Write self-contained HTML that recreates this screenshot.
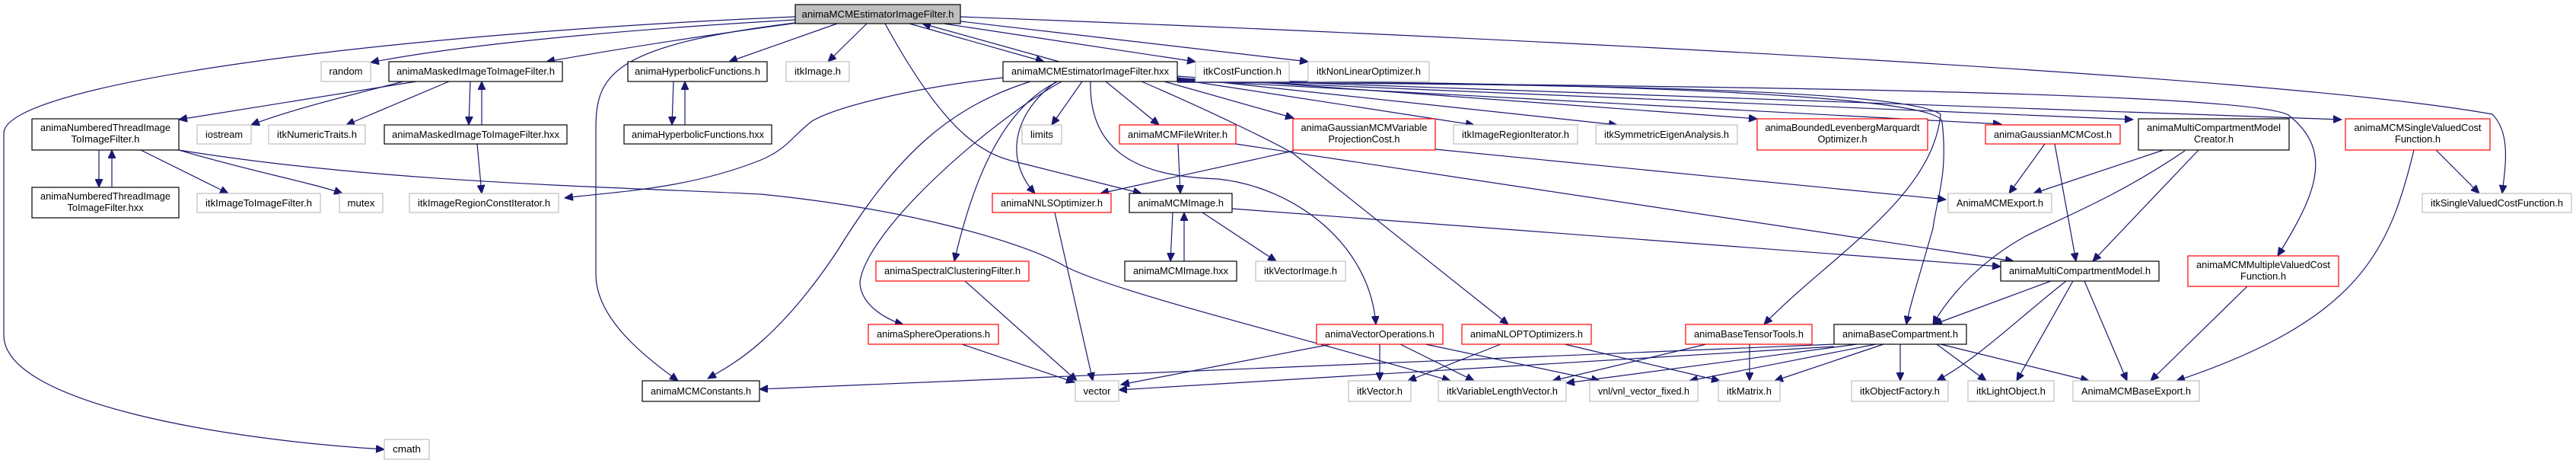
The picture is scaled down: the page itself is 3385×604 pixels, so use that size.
<!DOCTYPE html>
<html><head><meta charset="utf-8"><style>
html,body{margin:0;padding:0;background:#fff;}
svg{display:block;}
text{font-family:"Liberation Sans",sans-serif;font-size:12.5px;fill:#000;}
.e{fill:none;stroke:#191970;stroke-width:1.2;marker-end:url(#a);}
.b{fill:#fff;stroke:#000;stroke-width:1.2;}
.g{fill:#fff;stroke:#bfbfbf;stroke-width:1.2;}
.r{fill:#fff;stroke:#ff0000;stroke-width:1.2;}
.t{fill:#bfbfbf;stroke:#000;stroke-width:1.2;}
</style></head><body>
<svg width="3385" height="604" viewBox="0 0 3385 604" xmlns="http://www.w3.org/2000/svg">
<defs><marker id="a" markerUnits="userSpaceOnUse" markerWidth="12" markerHeight="10" refX="11" refY="5" orient="auto"><path d="M0,0 L11,5 L0,10 z" fill="#191970" stroke="#191970"/></marker></defs>

<!-- edges -->
<path class="e" d="M1045,22 C500,45 5,110 5,175 L5,440 C5,530 300,578 505,590"/>
<path class="e" d="M1045,26 C800,40 600,60 487,82"/>
<path class="e" d="M1048,30 C900,50 780,70 718,81"/>
<path class="e" d="M1100,31 L958,81"/>
<path class="e" d="M1139,31 L1088,81"/>
<path class="e" d="M1163,31 C1250,190 1300,205 1345,215 L1500,254"/>
<path class="e" d="M1195,31 L1372,81"/>
<path class="e" d="M1392,81 L1212,31"/>
<path class="e" d="M1240,31 L1571,81"/>
<path class="e" d="M1262,28 L1719,81"/>
<path class="e" d="M1262,22 C2000,50 3000,100 3275,150 C3300,175 3292,220 3288,254"/>
<path class="e" d="M1045,30 C800,60 783,100 783,170 L783,360 C783,420 850,470 891,500"/>
<path class="e" d="M547,107 L235,157"/>
<path class="e" d="M530,107 C440,130 380,145 330,164"/>
<path class="e" d="M590,107 L455,164"/>
<path class="e" d="M618,107 L616,164"/>
<path class="e" d="M633,164 L633,107"/>
<path class="e" d="M627,189 L633,254"/>
<path class="e" d="M130,197 L130,246"/>
<path class="e" d="M147,246 L147,197"/>
<path class="e" d="M185,197 L300,254"/>
<path class="e" d="M235,197 C330,225 410,240 450,254"/>
<path class="e" d="M235,197 C500,240 800,245 1000,255 C1200,275 1350,320 1400,350 C1470,385 1700,440 1906,500"/>
<path class="e" d="M885,107 L883,164"/>
<path class="e" d="M900,164 L900,107"/>
<path class="e" d="M1318,102 C1200,115 1100,140 1067,159 C1040,180 1035,195 1000,210 C900,250 800,252 742,260"/>
<path class="e" d="M1354,107 C1250,140 1180,200 1100,330 C1020,450 960,480 930,497"/>
<path class="e" d="M1390,107 C1320,140 1280,230 1254,343"/>
<path class="e" d="M1395,107 C1300,160 1140,300 1130,370 C1130,400 1165,420 1187,426"/>
<path class="e" d="M1388,107 C1330,150 1320,210 1360,254"/>
<path class="e" d="M1422,107 L1382,164"/>
<path class="e" d="M1453,107 L1523,164"/>
<path class="e" d="M1433,107 C1430,220 1530,232 1600,235 C1700,245 1800,320 1808,426"/>
<path class="e" d="M1500,107 C1600,150 1680,190 1700,202 L1982,426"/>
<path class="e" d="M1530,107 L1700,155"/>
<path class="e" d="M1547,104 L1937,164"/>
<path class="e" d="M1547,102 L2125,164"/>
<path class="e" d="M1547,100 L2309,156"/>
<path class="e" d="M1547,108 C2000,110 2500,115 2550,150 C2540,260 2400,340 2318,426"/>
<path class="e" d="M1547,106 C2200,108 2550,130 2552,160 C2560,230 2545,260 2540,300 C2520,370 2510,400 2505,426"/>
<path class="e" d="M1547,105 L2630,163"/>
<path class="e" d="M1547,104 L2803,157"/>
<path class="e" d="M1547,103 L3077,157"/>
<path class="e" d="M1547,107 C2200,112 2950,120 3007,151 C3070,200 3040,260 2993,336"/>
<path class="e" d="M1886,196 L2557,262"/>
<path class="e" d="M1700,198 L1446,254"/>
<path class="e" d="M1548,189 L1551,254"/>
<path class="e" d="M1624,189 L2646,343"/>
<path class="e" d="M1619,274 L2629,350"/>
<path class="e" d="M1541,279 L1538,343"/>
<path class="e" d="M1556,343 L1556,279"/>
<path class="e" d="M1580,279 L1677,343"/>
<path class="e" d="M1386,279 L1436,500"/>
<path class="e" d="M1268,369 L1415,500"/>
<path class="e" d="M1264,452 L1412,502"/>
<path class="e" d="M1749,452 L1473,505"/>
<path class="e" d="M1813,452 L1813,500"/>
<path class="e" d="M1840,452 L1937,500"/>
<path class="e" d="M1873,452 L2102,500"/>
<path class="e" d="M1972,452 L1850,500"/>
<path class="e" d="M2056,452 L2260,500"/>
<path class="e" d="M2242,452 L2040,500"/>
<path class="e" d="M2299,452 L2299,500"/>
<path class="e" d="M2410,452 L998,511"/>
<path class="e" d="M2410,455 L1470,512"/>
<path class="e" d="M2440,452 L2058,503"/>
<path class="e" d="M2465,452 L2220,500"/>
<path class="e" d="M2475,452 L2332,500"/>
<path class="e" d="M2497,452 L2497,500"/>
<path class="e" d="M2545,452 L2610,500"/>
<path class="e" d="M2550,452 L2745,500"/>
<path class="e" d="M2687,189 L2640,254"/>
<path class="e" d="M2700,189 L2728,343"/>
<path class="e" d="M2843,197 L2672,254"/>
<path class="e" d="M2871,198 C2780,260 2700,290 2660,311 C2600,345 2560,390 2540,426"/>
<path class="e" d="M2889,197 L2750,343"/>
<path class="e" d="M2695,369 L2541,426"/>
<path class="e" d="M2715,369 C2650,420 2600,470 2545,500"/>
<path class="e" d="M2724,369 L2650,500"/>
<path class="e" d="M2739,369 L2795,500"/>
<path class="e" d="M2953,376 L2826,500"/>
<path class="e" d="M3172,197 C3140,330 3100,420 2860,500"/>
<path class="e" d="M3201,197 L3258,254"/>

<!-- nodes -->
<g>
<rect class="t" x="1045" y="6" width="217" height="25"/><text x="1153.5" y="23" text-anchor="middle" textLength="200" lengthAdjust="spacingAndGlyphs">animaMCMEstimatorImageFilter.h</text>

<rect class="g" x="422" y="81" width="65" height="26"/><text x="454.5" y="98" text-anchor="middle" textLength="44" lengthAdjust="spacingAndGlyphs">random</text>
<rect class="b" x="511" y="81" width="228" height="26"/><text x="625" y="98" text-anchor="middle" textLength="208" lengthAdjust="spacingAndGlyphs">animaMaskedImageToImageFilter.h</text>
<rect class="b" x="825" y="81" width="183" height="26"/><text x="916.5" y="98" text-anchor="middle" textLength="165" lengthAdjust="spacingAndGlyphs">animaHyperbolicFunctions.h</text>
<rect class="g" x="1033" y="81" width="83" height="26"/><text x="1074.5" y="98" text-anchor="middle" textLength="61" lengthAdjust="spacingAndGlyphs">itkImage.h</text>
<rect class="b" x="1318" y="81" width="229" height="26"/><text x="1432.5" y="98" text-anchor="middle" textLength="207" lengthAdjust="spacingAndGlyphs">animaMCMEstimatorImageFilter.hxx</text>
<rect class="g" x="1571" y="81" width="123" height="26"/><text x="1632.5" y="98" text-anchor="middle" textLength="103" lengthAdjust="spacingAndGlyphs">itkCostFunction.h</text>
<rect class="g" x="1719" y="81" width="159" height="26"/><text x="1798.5" y="98" text-anchor="middle" textLength="137" lengthAdjust="spacingAndGlyphs">itkNonLinearOptimizer.h</text>

<rect class="b" x="42" y="156" width="193" height="41"/><text x="138.5" y="172" text-anchor="middle" textLength="171" lengthAdjust="spacingAndGlyphs">animaNumberedThreadImage</text><text x="138.5" y="187" text-anchor="middle" textLength="90" lengthAdjust="spacingAndGlyphs">ToImageFilter.h</text>
<rect class="g" x="259" y="164" width="71" height="25"/><text x="294.5" y="181" text-anchor="middle" textLength="49" lengthAdjust="spacingAndGlyphs">iostream</text>
<rect class="g" x="353" y="164" width="127" height="25"/><text x="416.5" y="181" text-anchor="middle" textLength="105" lengthAdjust="spacingAndGlyphs">itkNumericTraits.h</text>
<rect class="b" x="505" y="164" width="240" height="25"/><text x="625" y="181" text-anchor="middle" textLength="220" lengthAdjust="spacingAndGlyphs">animaMaskedImageToImageFilter.hxx</text>
<rect class="b" x="820" y="164" width="194" height="25"/><text x="917" y="181" text-anchor="middle" textLength="174" lengthAdjust="spacingAndGlyphs">animaHyperbolicFunctions.hxx</text>
<rect class="g" x="1343" y="164" width="52" height="25"/><text x="1369" y="181" text-anchor="middle" textLength="30" lengthAdjust="spacingAndGlyphs">limits</text>
<rect class="r" x="1471" y="164" width="153" height="25"/><text x="1547.5" y="181" text-anchor="middle" textLength="131" lengthAdjust="spacingAndGlyphs">animaMCMFileWriter.h</text>
<rect class="r" x="1699" y="156" width="187" height="41"/><text x="1792.5" y="172" text-anchor="middle" textLength="166" lengthAdjust="spacingAndGlyphs">animaGaussianMCMVariable</text><text x="1792.5" y="187" text-anchor="middle" textLength="94" lengthAdjust="spacingAndGlyphs">ProjectionCost.h</text>
<rect class="g" x="1910" y="164" width="163" height="25"/><text x="1991.5" y="181" text-anchor="middle" textLength="141" lengthAdjust="spacingAndGlyphs">itkImageRegionIterator.h</text>
<rect class="g" x="2097" y="164" width="186" height="25"/><text x="2190" y="181" text-anchor="middle" textLength="164" lengthAdjust="spacingAndGlyphs">itkSymmetricEigenAnalysis.h</text>
<rect class="r" x="2309" y="156" width="224" height="41"/><text x="2421" y="172" text-anchor="middle" textLength="203" lengthAdjust="spacingAndGlyphs">animaBoundedLevenbergMarquardt</text><text x="2421" y="187" text-anchor="middle" textLength="65" lengthAdjust="spacingAndGlyphs">Optimizer.h</text>
<rect class="r" x="2609" y="164" width="177" height="25"/><text x="2697.5" y="181" text-anchor="middle" textLength="155" lengthAdjust="spacingAndGlyphs">animaGaussianMCMCost.h</text>
<rect class="b" x="2810" y="156" width="198" height="41"/><text x="2909" y="172" text-anchor="middle" textLength="176" lengthAdjust="spacingAndGlyphs">animaMultiCompartmentModel</text><text x="2909" y="187" text-anchor="middle" textLength="52" lengthAdjust="spacingAndGlyphs">Creator.h</text>
<rect class="r" x="3082" y="156" width="190" height="41"/><text x="3177" y="172" text-anchor="middle" textLength="167" lengthAdjust="spacingAndGlyphs">animaMCMSingleValuedCost</text><text x="3177" y="187" text-anchor="middle" textLength="60" lengthAdjust="spacingAndGlyphs">Function.h</text>

<rect class="b" x="42" y="246" width="193" height="40"/><text x="138.5" y="262" text-anchor="middle" textLength="171" lengthAdjust="spacingAndGlyphs">animaNumberedThreadImage</text><text x="138.5" y="277" text-anchor="middle" textLength="100" lengthAdjust="spacingAndGlyphs">ToImageFilter.hxx</text>
<rect class="g" x="259" y="254" width="162" height="25"/><text x="340" y="271" text-anchor="middle" textLength="140" lengthAdjust="spacingAndGlyphs">itkImageToImageFilter.h</text>
<rect class="g" x="446" y="254" width="57" height="25"/><text x="474.5" y="271" text-anchor="middle" textLength="36" lengthAdjust="spacingAndGlyphs">mutex</text>
<rect class="g" x="538" y="254" width="196" height="25"/><text x="636" y="271" text-anchor="middle" textLength="174" lengthAdjust="spacingAndGlyphs">itkImageRegionConstIterator.h</text>
<rect class="r" x="1304" y="254" width="156" height="25"/><text x="1382" y="271" text-anchor="middle" textLength="134" lengthAdjust="spacingAndGlyphs">animaNNLSOptimizer.h</text>
<rect class="b" x="1484" y="254" width="135" height="25"/><text x="1551.5" y="271" text-anchor="middle" textLength="113" lengthAdjust="spacingAndGlyphs">animaMCMImage.h</text>
<rect class="g" x="2560" y="254" width="136" height="25"/><text x="2628" y="271" text-anchor="middle" textLength="114" lengthAdjust="spacingAndGlyphs">AnimaMCMExport.h</text>
<rect class="g" x="3183" y="254" width="196" height="25"/><text x="3281" y="271" text-anchor="middle" textLength="174" lengthAdjust="spacingAndGlyphs">itkSingleValuedCostFunction.h</text>

<rect class="r" x="1151" y="343" width="201" height="26"/><text x="1251.5" y="360" text-anchor="middle" textLength="179" lengthAdjust="spacingAndGlyphs">animaSpectralClusteringFilter.h</text>
<rect class="b" x="1478" y="343" width="147" height="26"/><text x="1551.5" y="360" text-anchor="middle" textLength="125" lengthAdjust="spacingAndGlyphs">animaMCMImage.hxx</text>
<rect class="g" x="1650" y="343" width="118" height="26"/><text x="1709" y="360" text-anchor="middle" textLength="96" lengthAdjust="spacingAndGlyphs">itkVectorImage.h</text>
<rect class="b" x="2629" y="343" width="208" height="26"/><text x="2733" y="360" text-anchor="middle" textLength="186" lengthAdjust="spacingAndGlyphs">animaMultiCompartmentModel.h</text>
<rect class="r" x="2875" y="336" width="198" height="40"/><text x="2974" y="352" text-anchor="middle" textLength="176" lengthAdjust="spacingAndGlyphs">animaMCMMultipleValuedCost</text><text x="2974" y="367" text-anchor="middle" textLength="60" lengthAdjust="spacingAndGlyphs">Function.h</text>

<rect class="r" x="1141" y="426" width="171" height="26"/><text x="1226.5" y="443" text-anchor="middle" textLength="149" lengthAdjust="spacingAndGlyphs">animaSphereOperations.h</text>
<rect class="r" x="1730" y="426" width="166" height="26"/><text x="1813" y="443" text-anchor="middle" textLength="144" lengthAdjust="spacingAndGlyphs">animaVectorOperations.h</text>
<rect class="r" x="1921" y="426" width="170" height="26"/><text x="2006" y="443" text-anchor="middle" textLength="148" lengthAdjust="spacingAndGlyphs">animaNLOPTOptimizers.h</text>
<rect class="r" x="2215" y="426" width="166" height="26"/><text x="2298" y="443" text-anchor="middle" textLength="144" lengthAdjust="spacingAndGlyphs">animaBaseTensorTools.h</text>
<rect class="b" x="2410" y="426" width="174" height="26"/><text x="2497" y="443" text-anchor="middle" textLength="152" lengthAdjust="spacingAndGlyphs">animaBaseCompartment.h</text>

<rect class="b" x="844" y="500" width="154" height="27"/><text x="921" y="518" text-anchor="middle" textLength="132" lengthAdjust="spacingAndGlyphs">animaMCMConstants.h</text>
<rect class="g" x="1413" y="500" width="57" height="27"/><text x="1441.5" y="518" text-anchor="middle" textLength="36" lengthAdjust="spacingAndGlyphs">vector</text>
<rect class="g" x="1772" y="500" width="82" height="27"/><text x="1813" y="518" text-anchor="middle" textLength="60" lengthAdjust="spacingAndGlyphs">itkVector.h</text>
<rect class="g" x="1890" y="500" width="168" height="27"/><text x="1974" y="518" text-anchor="middle" textLength="146" lengthAdjust="spacingAndGlyphs">itkVariableLengthVector.h</text>
<rect class="g" x="2089" y="500" width="142" height="27"/><text x="2160" y="518" text-anchor="middle" textLength="120" lengthAdjust="spacingAndGlyphs">vnl/vnl_vector_fixed.h</text>
<rect class="g" x="2258" y="500" width="81" height="27"/><text x="2298.5" y="518" text-anchor="middle" textLength="59" lengthAdjust="spacingAndGlyphs">itkMatrix.h</text>
<rect class="g" x="2433" y="500" width="127" height="27"/><text x="2496.5" y="518" text-anchor="middle" textLength="105" lengthAdjust="spacingAndGlyphs">itkObjectFactory.h</text>
<rect class="g" x="2586" y="500" width="113" height="27"/><text x="2642.5" y="518" text-anchor="middle" textLength="91" lengthAdjust="spacingAndGlyphs">itkLightObject.h</text>
<rect class="g" x="2724" y="500" width="166" height="27"/><text x="2807" y="518" text-anchor="middle" textLength="144" lengthAdjust="spacingAndGlyphs">AnimaMCMBaseExport.h</text>

<rect class="g" x="505" y="577" width="59" height="26"/><text x="534.5" y="594" text-anchor="middle" textLength="37" lengthAdjust="spacingAndGlyphs">cmath</text>
</g>
</svg>
</body></html>
